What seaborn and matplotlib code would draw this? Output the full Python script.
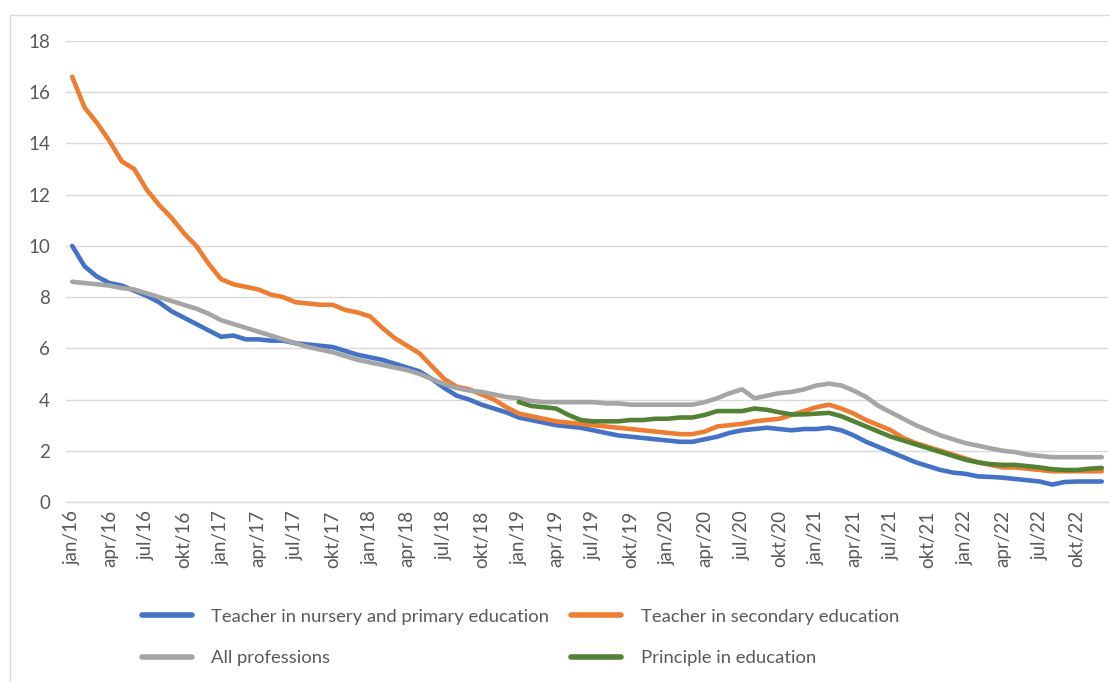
import numpy as np
import pandas as pd
import matplotlib
matplotlib.use("Agg")
import matplotlib.pyplot as plt
import seaborn as sns
from matplotlib.lines import Line2D

# Monthly series, jan/16 .. dec/22 (84 months)
nursery_primary = [
    10.0, 9.2, 8.8, 8.55, 8.45, 8.25, 8.05, 7.8, 7.45, 7.2, 6.95, 6.7,
    6.45, 6.5, 6.35, 6.35, 6.3, 6.3, 6.2, 6.15, 6.1, 6.05, 5.9, 5.75,
    5.65, 5.55, 5.4, 5.25, 5.1, 4.8, 4.45, 4.15, 4.0, 3.8, 3.65, 3.5,
    3.3, 3.2, 3.1, 3.0, 2.95, 2.9, 2.8, 2.7, 2.6, 2.55, 2.5, 2.45,
    2.4, 2.35, 2.35, 2.45, 2.55, 2.7, 2.8, 2.85, 2.9, 2.85, 2.8, 2.85,
    2.85, 2.9, 2.8, 2.6, 2.35, 2.15, 1.95, 1.75, 1.55, 1.4, 1.25, 1.15,
    1.1, 1.0, 0.98, 0.95, 0.9, 0.85, 0.8, 0.68, 0.78, 0.8, 0.8, 0.8,
]
secondary = [
    16.6, 15.4, 14.8, 14.1, 13.3, 13.0, 12.2, 11.6, 11.1, 10.5, 10.0, 9.3,
    8.7, 8.5, 8.4, 8.3, 8.1, 8.0, 7.8, 7.75, 7.7, 7.7, 7.5, 7.4,
    7.25, 6.8, 6.4, 6.1, 5.8, 5.3, 4.8, 4.5, 4.4, 4.2, 4.0, 3.7,
    3.45, 3.35, 3.25, 3.15, 3.1, 3.05, 3.0, 2.95, 2.9, 2.85, 2.8, 2.75,
    2.7, 2.65, 2.65, 2.75, 2.95, 3.0, 3.05, 3.15, 3.2, 3.25, 3.4, 3.55,
    3.7, 3.8, 3.65, 3.45, 3.2, 3.0, 2.8, 2.5, 2.3, 2.15, 2.0, 1.85,
    1.7, 1.55, 1.45, 1.35, 1.35, 1.3, 1.25, 1.2, 1.2, 1.2, 1.2, 1.2,
]
all_professions = [
    8.6, 8.55, 8.5, 8.45, 8.35, 8.3, 8.15, 8.0, 7.85, 7.7, 7.55, 7.35,
    7.1, 6.95, 6.8, 6.65, 6.5, 6.35, 6.2, 6.05, 5.95, 5.85, 5.7, 5.55,
    5.45, 5.35, 5.25, 5.15, 5.0, 4.8, 4.6, 4.45, 4.35, 4.3, 4.2, 4.1,
    4.05, 3.95, 3.9, 3.9, 3.9, 3.9, 3.9, 3.85, 3.85, 3.8, 3.8, 3.8,
    3.8, 3.8, 3.8, 3.9, 4.05, 4.25, 4.4, 4.05, 4.15, 4.25, 4.3, 4.4,
    4.55, 4.62, 4.55, 4.35, 4.1, 3.75, 3.5, 3.25, 3.0, 2.8, 2.6, 2.45,
    2.3, 2.2, 2.1, 2.0, 1.95, 1.85, 1.8, 1.75, 1.75, 1.75, 1.75, 1.75,
]
# Principal series starts in jan/19 (month 36)
principal_start = 36
principal = [
    3.9, 3.75, 3.7, 3.65, 3.4, 3.2, 3.15, 3.15, 3.15, 3.2, 3.2, 3.25,
    3.25, 3.3, 3.3, 3.4, 3.55, 3.55, 3.55, 3.65, 3.6, 3.5, 3.42, 3.42,
    3.45, 3.48, 3.35, 3.15, 2.95, 2.75, 2.55, 2.4, 2.25, 2.1, 1.95, 1.8,
    1.65, 1.55, 1.48, 1.45, 1.45, 1.4, 1.35, 1.28, 1.25, 1.25, 1.3, 1.33,
]

series_names = [
    "Teacher in nursery and primary education",
    "Teacher in secondary education",
    "All professions",
    "Principle in education",
]
series_colors = ["#4472C4", "#ED7D31", "#A5A5A5", "#548235"]

month_names = ["jan", "apr", "jul", "okt"]
years = ["16", "17", "18", "19", "20", "21", "22"]
tick_labels = [f"{m}/{y}" for y in years for m in month_names]

frames = []
for name, vals, start in [
    (series_names[0], nursery_primary, 0),
    (series_names[1], secondary, 0),
    (series_names[2], all_professions, 0),
    (series_names[3], principal, principal_start),
]:
    frames.append(pd.DataFrame({
        "month": np.arange(start, start + len(vals)),
        "value": vals,
        "series": name,
    }))
df = pd.concat(frames, ignore_index=True)

sns.set_theme(style="white")
plt.rcParams["font.family"] = ["Lato", "DejaVu Sans"]
text_color = "#595959"

fig = plt.figure(figsize=(11.10, 6.82), dpi=100)
ax = fig.add_axes([66 / 1110, 1 - 502 / 682, (1108 - 66) / 1110, (502 - 41) / 682])

sns.lineplot(
    data=df, x="month", y="value", hue="series",
    hue_order=series_names, palette=series_colors,
    linewidth=3.3, ax=ax, legend=False, sort=True,
)

n_months = len(nursery_primary)
ax.set_xlim(-0.5, n_months - 0.5)
ax.set_ylim(0, 18)
ax.set_yticks(np.arange(0, 19, 2))
ax.yaxis.grid(True, color="#D9D9D9", linewidth=1.0)
ax.set_axisbelow(True)

# Labels at every third month, tick marks at category boundaries
ax.set_xticks(np.arange(0, n_months, 3))
ax.set_xticklabels(tick_labels, rotation=90, fontsize=13.5, color=text_color)
ax.set_xticks(np.arange(-0.5, n_months, 3), minor=True)
ax.tick_params(axis="x", which="major", length=0, pad=6)
ax.tick_params(axis="x", which="minor", length=5, width=1, color="#D9D9D9", direction="out")
ax.tick_params(axis="y", length=0, labelsize=13.5, labelcolor=text_color, pad=11.5)
ax.set_xlabel("")
ax.set_ylabel("")
for side in ["top", "right", "left"]:
    ax.spines[side].set_visible(False)
ax.spines["bottom"].set_color("#D9D9D9")
ax.spines["bottom"].set_linewidth(1.0)

# Legend: two rows, two columns
order = [0, 2, 1, 3]
handles = [Line2D([], [], color=series_colors[i], linewidth=4) for i in order]
labels = [series_names[i] for i in order]
leg = fig.legend(
    handles, labels, ncol=2, frameon=False,
    loc="upper left", bbox_to_anchor=(125 / 1110, 1 - 592 / 682),
    fontsize=13.3, handlelength=2.7, handletextpad=1.08,
    columnspacing=1.15, labelspacing=1.4,
)
for t in leg.get_texts():
    t.set_color(text_color)

# Chart area border
fig.add_artist(Line2D([10 / 1110, 10 / 1110], [0, 1 - 15 / 682],
                      transform=fig.transFigure, color="#D9D9D9", linewidth=1))
fig.add_artist(Line2D([10 / 1110, 1], [1 - 15 / 682, 1 - 15 / 682],
                      transform=fig.transFigure, color="#D9D9D9", linewidth=1))

fig.savefig("out.png", dpi=100, facecolor="white")
